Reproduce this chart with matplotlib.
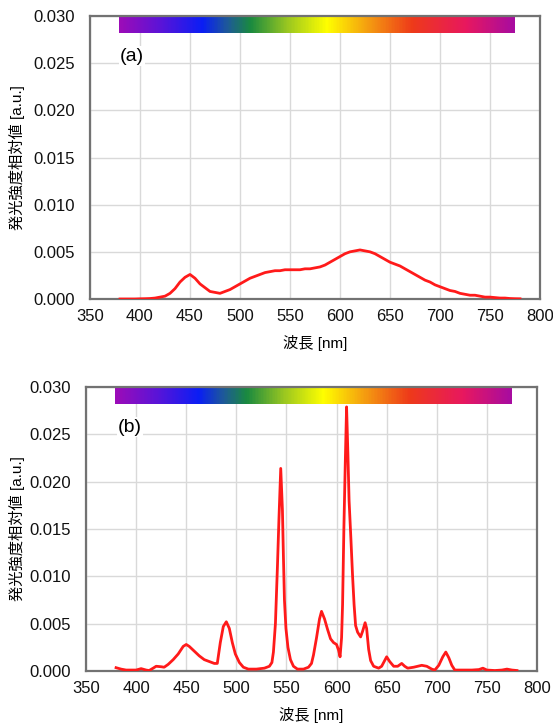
import numpy as np
import matplotlib
matplotlib.use('Agg')
import matplotlib.pyplot as plt
from matplotlib.colors import LinearSegmentedColormap

plt.rcParams['font.family'] = ['Liberation Sans', 'Noto Sans CJK JP', 'DejaVu Sans']
plt.rcParams['axes.unicode_minus'] = False

# (a) 広帯域スペクトル 5nm刻み
wl_a = list(range(380, 785, 5))
val_a = [0.0000, 0.0000, 0.0000, 0.0000, 0.00002, 0.00003, 0.00005, 0.0001, 0.0002, 0.0003,
         0.0006, 0.0011, 0.0018, 0.0023, 0.0026, 0.0022, 0.0016, 0.0012, 0.0008, 0.0007,
         0.0006, 0.0008, 0.0010, 0.0013, 0.0016, 0.0019, 0.0022, 0.0024, 0.0026, 0.0028,
         0.0029, 0.0030, 0.0030, 0.0031, 0.0031, 0.0031, 0.0031, 0.0032, 0.0032, 0.0033,
         0.0034, 0.0036, 0.0039, 0.0042, 0.0045, 0.0048, 0.0050, 0.0051, 0.0052, 0.0051,
         0.0050, 0.0048, 0.0045, 0.0042, 0.0039, 0.0037, 0.0035, 0.0032, 0.0029, 0.0026,
         0.0023, 0.0020, 0.0018, 0.0015, 0.0013, 0.0011, 0.0009, 0.0008, 0.0006, 0.0005,
         0.0004, 0.0004, 0.0003, 0.0002, 0.0002, 0.00015, 0.0001, 0.0001, 0.00005, 0.00003,
         0.00002]

# (b) 輝線スペクトル
wl_b = [380, 385, 390, 395, 400, 405, 410, 413, 417, 420, 425, 428, 432, 437, 442, 447, 450,
        453, 458, 463, 468, 473, 478, 481, 484, 487, 490, 493, 496, 499, 503, 507, 512, 520,
        528, 533, 535.5, 537, 539, 541, 542.5, 544.3, 546, 547, 548, 549.5, 551.5, 554, 557,
        561, 567, 572, 575, 577, 580, 583, 585, 588, 591, 594, 597, 600, 602, 603.5, 605, 606,
        607.3, 608.7, 610, 611.3, 612.5, 614.3, 616, 617.5, 619, 621, 624, 626, 628.5, 630,
        632, 634, 637, 642, 645, 648, 650, 653, 657, 661, 665, 668, 671, 677, 685, 690, 695,
        698, 702, 706, 709, 712, 715, 718, 725, 735, 742, 746, 750, 758, 765, 770, 775, 780]
val_b = [0.00035, 0.0002, 0.0001, 0.0001, 0.0001, 0.00025, 0.0001, 0.00005, 0.0003, 0.0005,
         0.00045, 0.0004, 0.0007, 0.0012, 0.0018, 0.0026, 0.0028, 0.0026, 0.0021, 0.0016,
         0.0012, 0.0010, 0.0008, 0.0008, 0.0030, 0.0047, 0.0052, 0.0045, 0.0030, 0.0018,
         0.0009, 0.0004, 0.0002, 0.0002, 0.0003, 0.0005, 0.0009, 0.0020, 0.0050, 0.0110,
         0.0160, 0.0214, 0.0170, 0.0120, 0.0075, 0.0045, 0.0025, 0.0012, 0.0005, 0.0002,
         0.0002, 0.0004, 0.0008, 0.0017, 0.0035, 0.0055, 0.0063, 0.0055, 0.0044, 0.0034,
         0.0030, 0.0028, 0.0022, 0.0015, 0.0035, 0.0070, 0.0150, 0.0220, 0.0279, 0.0230,
         0.0180, 0.0140, 0.0100, 0.0070, 0.0048, 0.0041, 0.0036, 0.0042, 0.0051, 0.0045,
         0.0023, 0.0011, 0.0005, 0.0003, 0.0005, 0.0011, 0.0015, 0.0010, 0.0005, 0.0005,
         0.0008, 0.0005, 0.0003, 0.0004, 0.0006, 0.0005, 0.0002, 0.0001, 0.0006, 0.0015,
         0.0020, 0.0014, 0.0006, 0.0001, 0.0001, 0.0001, 0.00015, 0.0003, 0.0001, 0.00005,
         0.0001, 0.0002, 0.0001, 0.00005]

x_ticks = [350, 400, 450, 500, 550, 600, 650, 700, 750, 800]
y_ticks = [0.000, 0.005, 0.010, 0.015, 0.020, 0.025, 0.030]

# 可視光カラーバー
bar_nm = [379, 420, 462, 487, 510, 548, 587, 627, 673, 727, 775]
bar_colors = ['#9C0CB8', '#5A14D8', '#0A1EF5', '#1E5A98', '#1A8A40', '#9CC820', '#FFFF00',
              '#F5A010', '#EE3A1A', '#E8185F', '#A80CA0']

pos = [(n - bar_nm[0]) / (bar_nm[-1] - bar_nm[0]) for n in bar_nm]
spectrum_cmap = LinearSegmentedColormap.from_list('spectrum', list(zip(pos, bar_colors)))

fig = plt.figure(figsize=(5.53, 7.26), dpi=100)
ax1 = fig.add_axes([90 / 553, 1 - 299 / 726, 450 / 553, 283 / 726])
ax2 = fig.add_axes([86 / 553, 1 - 671 / 726, 451 / 553, 284 / 726])

panels = [(ax1, wl_a, val_a, '(a)', 392), (ax2, wl_b, val_b, '(b)', 394)]

for ax, wl, val, tag, tag_x in panels:
    ax.set_xlim(350, 800)
    ax.set_ylim(0, 0.030)
    ax.set_xticks(x_ticks)
    ax.set_yticks(y_ticks)
    ax.set_yticklabels([f'{v:.3f}' for v in y_ticks])
    ax.grid(True, color='#d9d9d9', linewidth=1.0)
    ax.set_axisbelow(True)
    ax.tick_params(length=0, labelsize=12, colors='#111111')
    ax.tick_params(axis='y', pad=11)
    ax.tick_params(axis='x', pad=7)
    for sp in ax.spines.values():
        sp.set_color('#727272')
        sp.set_linewidth(1.6)

    # カラーバー
    grad = np.linspace(0, 1, 400).reshape(1, -1)
    ax.imshow(grad, cmap=spectrum_cmap, aspect='auto',
              extent=[bar_nm[0], bar_nm[-1], 0.0282, 0.030], zorder=2)

    ax.plot(wl, val, color='#ff1a1a', linewidth=2.0, zorder=3)

    ax.text(tag_x, 0.02575, tag, fontsize=14, ha='center', va='center', zorder=2,
            bbox=dict(facecolor='white', edgecolor='none', pad=1))

    ax.set_xlabel('波長 [nm]', fontsize=11, labelpad=8)
    ax.set_ylabel('発光強度相対値 [a.u.]', fontsize=11)

ax1.yaxis.set_label_coords(-0.144, 0.5)
ax2.yaxis.set_label_coords(-0.135, 0.5)

fig.savefig('out.png', dpi=100)
